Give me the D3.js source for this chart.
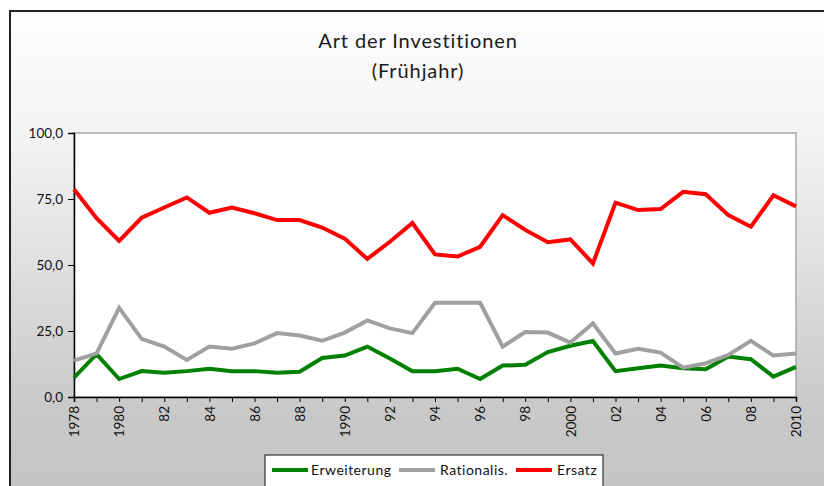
<!DOCTYPE html>
<html><head><meta charset="utf-8">
<script src="https://cdn.jsdelivr.net/npm/d3@7"></script>
<style>html,body{margin:0;padding:0;overflow:hidden;background:#fff}</style>
</head><body>
<script>
const years = d3.range(1978, 2011);
const tickLabels = ["1978","1980","82","84","86","88","1990","92","94","96","98","2000","02","04","06","08","2010"];
const erweiterung = [7.3,16.2,6.8,9.8,9.2,9.8,10.7,9.8,9.8,9.2,9.6,14.8,15.7,19.1,14.6,9.8,9.8,10.7,6.8,11.9,12.2,17.0,19.4,21.2,9.8,10.9,11.9,10.9,10.5,15.3,14.3,7.7,11.4];
const rationalis = [13.8,16.5,33.8,22.0,19.1,14.0,19.1,18.3,20.3,24.2,23.3,21.3,24.4,29.0,26.0,24.2,35.7,35.7,35.7,19.1,24.6,24.4,20.6,27.9,16.5,18.3,16.8,11.1,12.8,15.9,21.3,15.7,16.5];
const ersatz = [78.7,67.7,59.1,67.9,71.8,75.6,69.8,71.8,69.6,67.0,67.0,64.2,60.0,52.3,58.8,65.9,54.0,53.2,56.9,68.9,63.3,58.6,59.7,50.6,73.6,70.8,71.2,77.7,76.8,68.9,64.5,76.4,72.2];
const seriesNames = ["Erweiterung","Rationalis.","Ersatz"];
const seriesColors = ["#008000","#a0a0a0","#ff0000"];
const yTicks = [0,25,50,75,100];

const W=824,H=486;
const svg=d3.select("body").append("svg").attr("width",W).attr("height",H);
const font="Lato, 'Open Sans', sans-serif";
const defs=svg.append("defs");
const g=defs.append("linearGradient").attr("id","bg").attr("x1",0).attr("y1",0).attr("x2",0).attr("y2",1);
g.append("stop").attr("offset","0%").attr("stop-color","#fefefe");
g.append("stop").attr("offset","25%").attr("stop-color","#f3f3f3");
g.append("stop").attr("offset","80%").attr("stop-color","#c8c8c8");
g.append("stop").attr("offset","100%").attr("stop-color","#c4c4c4");
svg.append("rect").attr("x",0).attr("y",0).attr("width",W).attr("height",H).attr("fill","#fff");
svg.append("rect").attr("x",10).attr("y",11).attr("width",W+20).attr("height",H+20)
  .attr("fill","url(#bg)").attr("stroke","#222").attr("stroke-width",2);

svg.append("text").attr("x",418).attr("y",48).attr("text-anchor","middle")
  .attr("font-family",font).attr("font-size",20).attr("letter-spacing",0.9).attr("fill","#1a1a1a").text("Art der Investitionen");
svg.append("text").attr("x",418).attr("y",78).attr("text-anchor","middle")
  .attr("font-family",font).attr("font-size",20).attr("letter-spacing",0.9).attr("fill","#1a1a1a").text("(Frühjahr)");

const L=74,R=796,T=133,B=397;
const x=d3.scaleLinear().domain([1978,2010]).range([L,R]);
const y=d3.scaleLinear().domain([0,100]).range([B,T]);

svg.append("rect").attr("x",L).attr("y",T).attr("width",R-L).attr("height",B-T)
  .attr("fill","#fff").attr("stroke","#a8a8a8").attr("stroke-width",1.5);

const yAxis=svg.append("g").attr("transform",`translate(${L},0)`)
  .call(d3.axisLeft(y).tickValues(yTicks).tickSize(6).tickFormat(d=>d3.format(".1f")(d).replace(".",",")));
yAxis.select(".domain").attr("stroke","#000").attr("stroke-width",1.5);
yAxis.selectAll("text").attr("font-family",font).attr("font-size",13.5).attr("fill","#111").attr("dx",-2);

const labelMap={};
years.filter(d=>d%2===0).forEach((d,i)=>labelMap[d]=tickLabels[i]);
const xAxis=svg.append("g").attr("transform",`translate(0,${B})`)
  .call(d3.axisBottom(x).tickValues(years).tickSize(5).tickFormat(d=>labelMap[d]||""));
xAxis.select(".domain").attr("stroke","#000").attr("stroke-width",1.5);
xAxis.selectAll("text").attr("font-family",font).attr("font-size",13.5).attr("fill","#111")
  .attr("transform","rotate(-90)").attr("text-anchor","end").attr("x",-9).attr("y",0).attr("dy","0.35em");

const data=[erweiterung,rationalis,ersatz];
const line=d3.line().x((d,i)=>x(years[i])).y(d=>y(d));
data.forEach((s,k)=>{
  svg.append("path").datum(s).attr("d",line).attr("fill","none")
    .attr("stroke",seriesColors[k]).attr("stroke-width",4).attr("stroke-linejoin","miter");
});

// legend
const lg=svg.append("g");
lg.append("rect").attr("x",265).attr("y",455).attr("width",338).attr("height",40)
  .attr("fill","#fff").attr("stroke","#333").attr("stroke-width",1.2);
const lx=[272,399,516], tx=[311,440,557];
seriesNames.forEach((n,k)=>{
  lg.append("line").attr("x1",lx[k]).attr("x2",lx[k]+36).attr("y1",470).attr("y2",470)
    .attr("stroke",seriesColors[k]).attr("stroke-width",4);
  lg.append("text").attr("x",tx[k]).attr("y",475).attr("font-family",font).attr("font-size",14)
    .attr("letter-spacing",0.5).attr("fill","#111").text(n);
});
</script>
</body></html>
